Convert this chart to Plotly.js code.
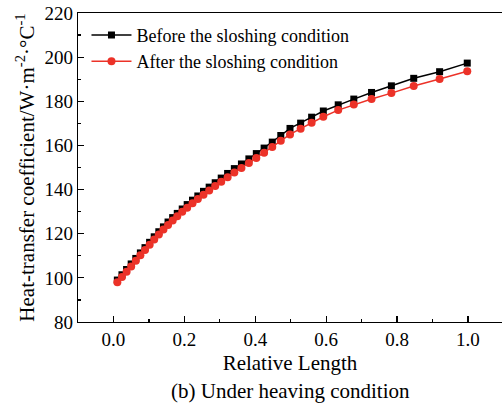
<!DOCTYPE html>
<html>
<head>
<meta charset="utf-8">
<script src="https://cdn.plot.ly/plotly-3.0.1.min.js"></script>
<style>html,body{margin:0;padding:0;background:#fff;}#chart{width:502px;height:403px;}</style>
</head>
<body>
<div id="chart"></div>
<script>
var relLength = [0.011, 0.024, 0.037, 0.050, 0.063, 0.076, 0.089, 0.102, 0.115, 0.128,
  0.141, 0.154, 0.167, 0.180, 0.194, 0.208, 0.223, 0.238, 0.254, 0.270,
  0.287, 0.304, 0.322, 0.341, 0.361, 0.382, 0.403, 0.425, 0.448, 0.472,
  0.498, 0.528, 0.559, 0.592, 0.634, 0.678, 0.728, 0.784, 0.847, 0.920, 0.998];
var beforeSloshing = [99.0, 101.4, 103.8, 106.3, 108.8, 111.3, 113.7, 116.1, 118.6, 120.9,
  123.1, 125.3, 127.3, 129.2, 131.2, 133.2, 135.2, 137.1, 139.2, 141.1,
  143.1, 145.2, 147.3, 149.5, 151.6, 153.9, 156.3, 158.8, 161.5, 164.5,
  167.7, 170.1, 172.8, 175.6, 178.4, 181.0, 184.0, 187.0, 190.4, 193.4, 197.3];
var afterSloshing = [98.0, 100.4, 102.8, 105.2, 107.7, 110.2, 112.6, 115.0, 117.4, 119.7,
  121.9, 124.0, 126.0, 127.9, 129.9, 131.8, 133.8, 135.7, 137.7, 139.6,
  141.6, 143.6, 145.6, 147.7, 149.8, 152.0, 154.3, 156.7, 159.3, 162.1,
  165.0, 167.6, 170.3, 173.0, 176.0, 178.5, 181.0, 183.7, 186.9, 190.1, 193.6];
var seriesNames = ['Before the sloshing condition', 'After the sloshing condition'];
var xTickVals = [0.0, 0.2, 0.4, 0.6, 0.8, 1.0];
var xTickText = ['0.0', '0.2', '0.4', '0.6', '0.8', '1.0'];
var yTickVals = [80, 100, 120, 140, 160, 180, 200, 220];

var fontFam = 'Liberation Serif';
var traces = [
  {x: relLength, y: beforeSloshing, name: seriesNames[0], type: 'scatter', mode: 'lines+markers',
   line: {color: '#000000', width: 1.5}, marker: {symbol: 'square', size: 7, color: '#000000'}},
  {x: relLength, y: afterSloshing, name: seriesNames[1], type: 'scatter', mode: 'lines+markers',
   line: {color: '#ec3228', width: 1.5}, marker: {symbol: 'circle', size: 8, color: '#ec3228'}}
];
var layout = {
  width: 502, height: 403,
  margin: {l: 78, r: 0, t: 13, b: 81},
  paper_bgcolor: '#ffffff', plot_bgcolor: '#ffffff',
  font: {family: fontFam, color: '#000000', size: 19},
  showlegend: true,
  legend: {x: 0.02, y: 0.988, xanchor: 'left', yanchor: 'top', bgcolor: 'rgba(0,0,0,0)',
           font: {family: fontFam, size: 18, color: '#000'}, tracegroupgap: 0, itemwidth: 40},
  xaxis: {range: [-0.1, 1.096], tickvals: xTickVals, ticktext: xTickText,
          ticks: 'inside', ticklen: 6, tickwidth: 1.2, tickcolor: '#000',
          minor: {dtick: 0.1, tick0: 0, ticks: 'inside', ticklen: 3, tickwidth: 1.2, tickcolor: '#000'},
          showline: true, linecolor: '#000', linewidth: 1.3, mirror: true,
          showgrid: false, zeroline: false,
          tickfont: {family: fontFam, size: 19},
          title: {text: 'Relative Length', font: {family: fontFam, size: 21, color: '#000'}, standoff: 6}},
  yaxis: {range: [80, 220], tickvals: yTickVals,
          ticks: 'inside', ticklen: 6, tickwidth: 1.2, tickcolor: '#000',
          minor: {dtick: 10, tick0: 80, ticks: 'inside', ticklen: 3, tickwidth: 1.2, tickcolor: '#000'},
          showline: true, linecolor: '#000', linewidth: 1.3, mirror: false,
          showgrid: false, zeroline: false,
          tickfont: {family: fontFam, size: 19},
          title: {text: 'Heat-transfer coefficient/W·m<sup>-2</sup>·°C<sup>-1</sup>', font: {family: fontFam, size: 21, color: '#000'}, standoff: 4}},
  annotations: [
    {text: '(b) Under heaving condition', xref: 'paper', yref: 'paper', x: 0.5, y: -0.222,
     xanchor: 'center', yanchor: 'middle', showarrow: false, font: {family: fontFam, size: 21, color: '#000'}}
  ]
};
Plotly.newPlot('chart', traces, layout, {displayModeBar: false, staticPlot: true});
</script>
</body>
</html>
